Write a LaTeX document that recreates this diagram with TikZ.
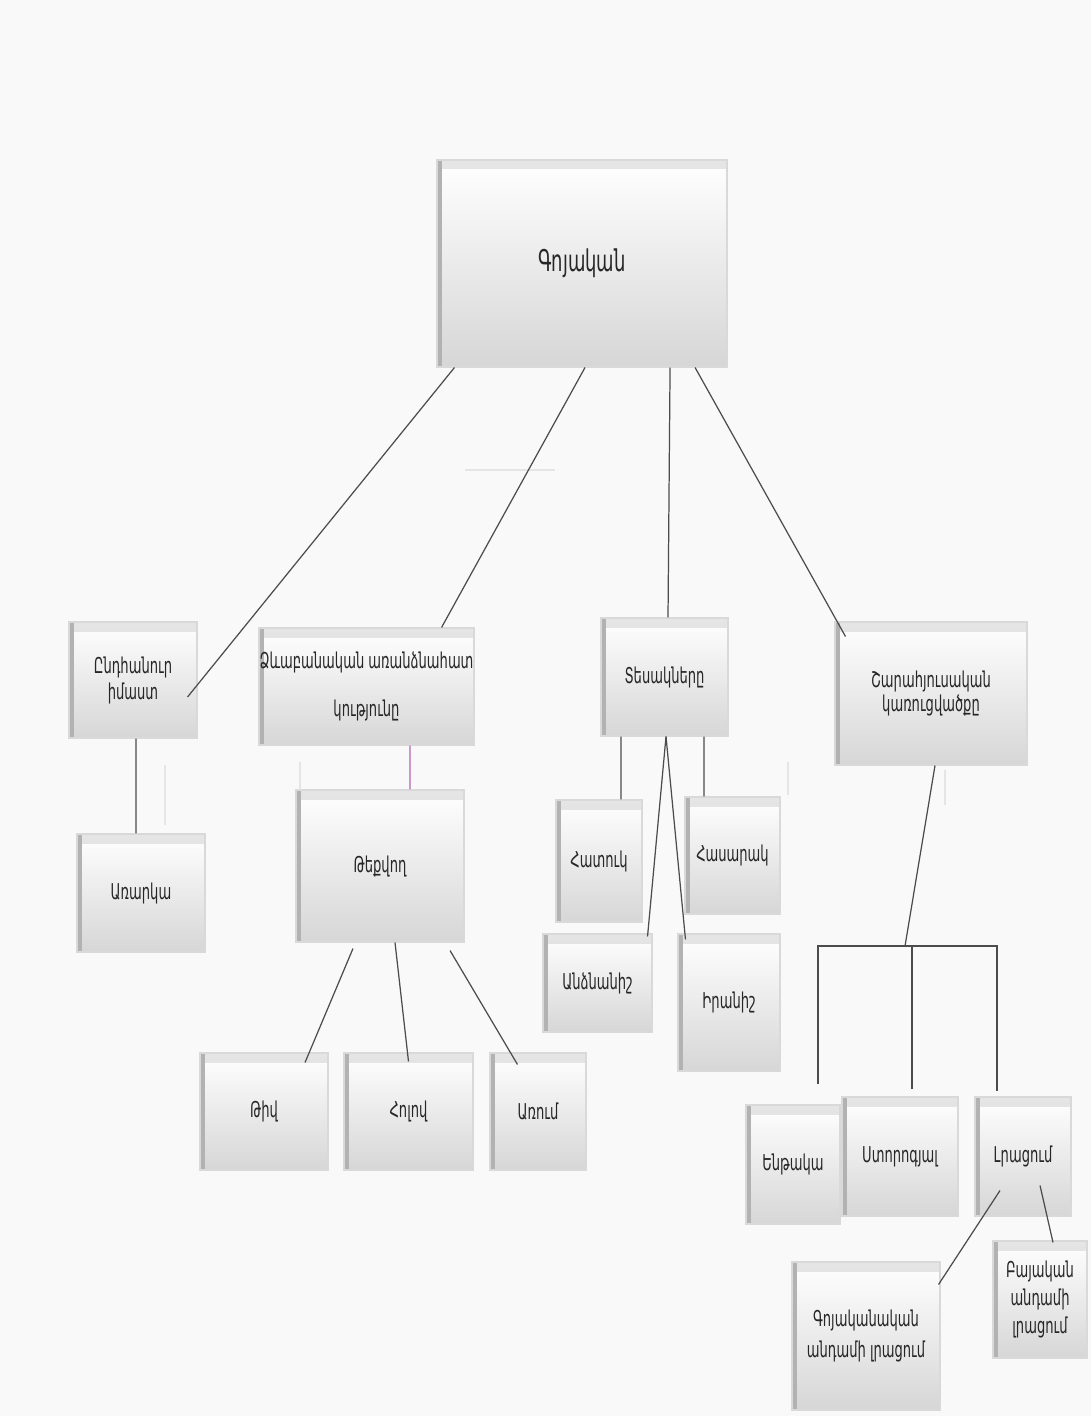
\documentclass[tikz,border=0pt]{standalone}
\usepackage{fontspec}
\setmainfont{DejaVu Sans}[FakeStretch=0.6]
\usetikzlibrary{shadings}

\tikzset{
  slab/.style 2 args={rectangle, draw=gray!30, line width=0.3pt,
    top color=white, bottom color=gray!32, inner sep=0pt, align=center,
    minimum width=#1*0.01cm, minimum height=#2*0.01cm,
    font=\fontsize{6.2}{7.5}\selectfont, text=black!85,
    path picture={
      \shade[top color=gray!20, bottom color=gray!40]
        (path picture bounding box.north west) rectangle ([yshift=-0.09cm]path picture bounding box.north east);
      \fill[gray!60] (path picture bounding box.north west) rectangle ([xshift=0.045cm]path picture bounding box.south west);
    }},
  link/.style={draw=black!70, line width=0.35pt},
  ghost/.style={draw=gray!20, line width=0.4pt},
}

\begin{document}
\begin{tikzpicture}[x=0.01cm, y=-0.01cm]
    % backdrop
    \fill[gray!5] (0,0) rectangle (1091,1416);
    \useasboundingbox (0,0) rectangle (1091,1416);

    % top
    \node[slab={290}{207}, font=\fontsize{8.5}{10}\selectfont] (goy) at (582,263.5) {Գոյական};

    % second row
    \node[slab={128}{116}, font=\fontsize{6.2}{7.4}\selectfont] (gen) at (133,680) {Ընդհանուր\\իմաստ};
    \node[slab={215}{117}] (dzev) at (366.5,686.5) {Ձևաբանական առանձնահատ\\[0.22cm]կությունը};
    \node[slab={127}{118}] (tes) at (664.5,677) {Տեսակները};
    \node[slab={192}{143}, font=\fontsize{6.2}{6.6}\selectfont] (shar) at (931,693.5) {Շարահյուսական\\կառուցվածքը};

    % under gen and dzev
    \node[slab={128}{118}] (arr) at (141,893) {Առարկա};
    \node[slab={168}{152}] (tek) at (380,866) {Թեքվող};
    \node[slab={128}{117}] (tiv) at (264,1111.5) {Թիվ};
    \node[slab={129}{117}] (hol) at (408.5,1111.5) {Հոլով};
    \node[slab={96}{117}] (aru) at (538,1111.5) {Առում};

    % under tes
    \node[slab={86}{122}] (hat) at (599,861) {Հատուկ};
    \node[slab={95}{117}] (has) at (732.5,855.5) {Հասարակ};
    \node[slab={109}{98}] (andz) at (597.5,983) {Անձնանիշ};
    \node[slab={102}{137}] (iran) at (729,1002.5) {Իրանիշ};

    % under shar
    \node[slab={94}{119}] (ent) at (793,1164.5) {Ենթակա};
    \node[slab={116}{119}] (sto) at (900,1156.5) {Ստորոգյալ};
    \node[slab={96}{119}] (lrac) at (1023,1156.5) {Լրացում};
    \node[slab={148}{148}, font=\fontsize{6.2}{9}\selectfont] (goyl) at (866,1336) {Գոյականական\\անդամի լրացում};
    \node[slab={94}{117}, font=\fontsize{6.2}{8}\selectfont] (bay) at (1040,1299.5) {Բայական\\անդամի\\լրացում};

    % faint leftovers
    \draw[ghost] (465,470) -- (555,470);
    \draw[ghost] (165,765) -- (165,825);
    \draw[ghost] (300,762) -- (300,790);
    \draw[ghost] (788,762) -- (788,795);
    \draw[ghost] (945,770) -- (945,805);

    % from the top
    \draw[link] ([xshift=0.18cm]goy.south west) -- ([shift={(-0.1cm,-0.17cm)}]gen.east);
    \draw[link] ([xshift=0.03cm]goy.south) -- ([xshift=0.75cm]dzev.north);
    \draw[link] ([xshift=0.88cm]goy.south) -- ([xshift=0.035cm]tes.north);
    \draw[link] ([xshift=1.13cm]goy.south) -- ([shift={(0.11cm,-0.15cm)}]shar.north west);

    \draw[link] ([xshift=0.03cm]gen.south) -- ([xshift=-0.05cm]arr.north);
    \draw[draw=violet!60, line width=0.35pt] ([xshift=0.435cm]dzev.south) -- ([xshift=0.3cm]tek.north);

    \draw[link] ([shift={(-0.27cm,-0.06cm)}]tek.south) -- ([shift={(0.41cm,-0.1cm)}]tiv.north);
    \draw[link] ([xshift=0.15cm]tek.south) -- ([yshift=-0.09cm]hol.north);
    \draw[link] ([shift={(0.7cm,-0.08cm)}]tek.south) -- ([shift={(0.28cm,-0.12cm)}]aru.north west);

    \draw[link] ([xshift=-0.435cm]tes.south) -- ([xshift=0.22cm]hat.north);
    \draw[link] ([xshift=0.395cm]tes.south) -- ([xshift=-0.285cm]has.north);
    \draw[link] ([xshift=0.015cm]tes.south) -- ([shift={(-0.05cm,-0.03cm)}]andz.north east);
    \draw[link] ([xshift=0.015cm]tes.south) -- ([shift={(0.08cm,-0.06cm)}]iran.north west);

    % bracket under shar
    \coordinate (fork) at (905,946);
    \coordinate (entTop) at ([shift={(0.25cm,0.2cm)}]ent.north);
    \coordinate (stoTop) at ([shift={(0.12cm,0.07cm)}]sto.north);
    \coordinate (lracTop) at ([shift={(-0.26cm,0.05cm)}]lrac.north);
    \draw[link] ([xshift=0.04cm]shar.south) -- (fork);
    \draw[link] (entTop) -- (entTop |- fork) -- (lracTop |- fork) -- (lracTop);
    \draw[link] (stoTop) -- (stoTop |- fork);

    \draw[link] ([shift={(-0.23cm,0.26cm)}]lrac.south) -- ([shift={(-0.02cm,-0.23cm)}]goyl.north east);
    \draw[link] ([shift={(0.17cm,0.31cm)}]lrac.south) -- ([shift={(0.13cm,-0.02cm)}]bay.north);
\end{tikzpicture}
\end{document}
